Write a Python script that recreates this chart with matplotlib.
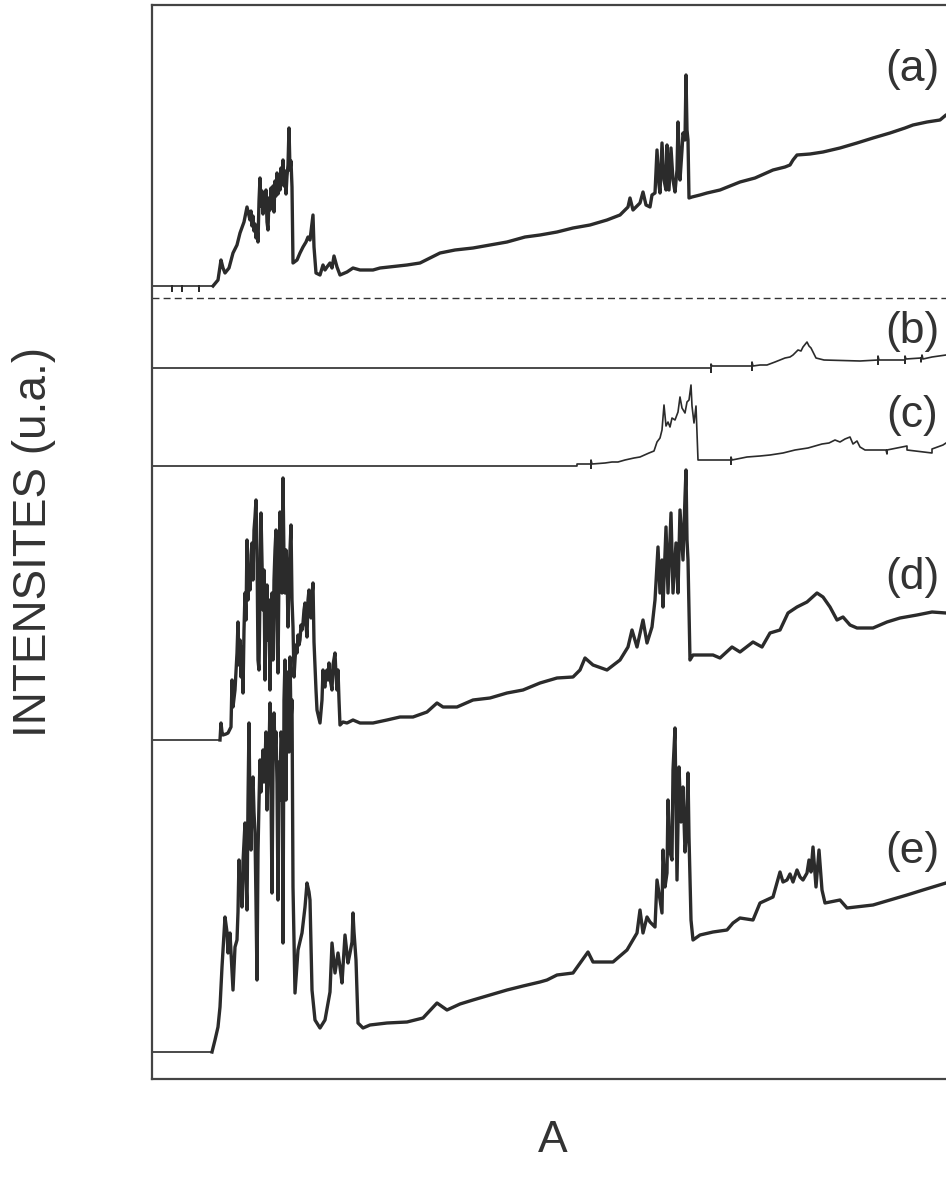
import numpy as np
import matplotlib
matplotlib.use("Agg")
from matplotlib import pyplot as plt

plt.rcParams['font.family'] = ['Liberation Sans', 'DejaVu Sans']

# spectra as (channel, intensity above the spectrum's own baseline)
a_pts = [(152, 0), (172, 0), (172, -5), (172, 0), (182, 0), (182, -5), (182, 0), (199, 0), (199, -5), (199, 0),
         (213, 0), (218, 6), (221, 26), (223, 18), (225, 13), (229, 18), (233, 33), (237, 41), (240, 53), (244, 64),
         (247, 79), (250, 66), (251, 75), (252, 60), (253, 70), (254, 55), (255, 62), (256, 48), (257, 60), (258, 44),
         (259, 85), (260, 108), (261, 80), (262, 95), (263, 72), (264, 92), (265, 78), (266, 96), (267, 64), (268, 56),
         (269, 88), (270, 76), (271, 98), (272, 82), (273, 100), (274, 74), (275, 105), (276, 90), (277, 113), (278, 92),
         (279, 110), (280, 96), (281, 118), (282, 104), (283, 126), (284, 100), (285, 115), (286, 92), (287, 110),
         (288, 121), (289, 158), (290, 116), (291, 125), (292, 99), (293, 23), (297, 26), (300, 33), (303, 39),
         (306, 44), (308, 49), (310, 46), (313, 71), (314, 39), (316, 13), (320, 11), (323, 21), (325, 16), (327, 19),
         (330, 23), (332, 18), (334, 30), (337, 19), (340, 11), (347, 14), (353, 18), (360, 16), (373, 16), (380, 18),
         (407, 21), (420, 23), (430, 28), (440, 33), (455, 36), (473, 38), (490, 41), (507, 44), (525, 49), (540, 51),
         (557, 54), (573, 58), (590, 61), (607, 66), (620, 71), (628, 79), (630, 88), (633, 76), (640, 83), (643, 94),
         (646, 81), (650, 79), (652, 91), (655, 93), (657, 136), (659, 101), (660, 93), (662, 143), (664, 106),
         (666, 96), (667, 141), (669, 96), (671, 138), (673, 106), (675, 94), (677, 116), (678, 164), (680, 106),
         (682, 136), (683, 153), (685, 146), (686, 211), (687, 156), (688, 146), (689, 88), (692, 89), (700, 91),
         (707, 93), (720, 96), (740, 104), (755, 108), (773, 116), (785, 119), (790, 121), (793, 126), (797, 131),
         (810, 132), (823, 134), (840, 138), (857, 143), (873, 148), (890, 153), (905, 158), (913, 161), (927, 164),
         (940, 166), (946, 171), (965, 178)]

b_pts = [(152, 0), (711, 0), (711, -4), (711, 4), (712, 2), (752, 2), (752, -2), (752, 6), (753, 2), (760, 3),
         (767, 3), (775, 6), (785, 10), (790, 11), (793, 13), (798, 18), (801, 17), (803, 21), (807, 26), (809, 22),
         (811, 20), (816, 10), (820, 9), (824, 8), (860, 7), (878, 8), (878, 4), (878, 12), (879, 8), (905, 8),
         (905, 5), (905, 12), (906, 9), (921, 10), (921, 6), (922, 13), (923, 9), (932, 11), (946, 13), (965, 14)]

c_pts = [(152, 0), (577, 0), (577, 2), (591, 2), (591, -2), (591, 6), (592, 2), (605, 3), (612, 4), (618, 4),
         (625, 6), (634, 8), (640, 9), (649, 13), (654, 15), (657, 24), (660, 28), (662, 36), (664, 61), (666, 40),
         (668, 44), (670, 39), (672, 48), (675, 46), (678, 54), (680, 69), (682, 58), (685, 53), (687, 64), (689, 66),
         (691, 81), (692, 60), (694, 43), (696, 60), (698, 6), (726, 6), (731, 6), (731, 2), (731, 9), (732, 6),
         (747, 9), (760, 10), (770, 11), (783, 13), (795, 16), (808, 18), (815, 20), (822, 22), (829, 23), (835, 26),
         (840, 24), (845, 27), (850, 29), (853, 22), (857, 25), (860, 19), (865, 16), (886, 16), (887, 12), (887, 16),
         (907, 20), (907, 16), (932, 13), (932, 17), (943, 21), (946, 23), (965, 26)]

d_pts = [(152, 0), (220, 0), (221, 17), (222, 8), (223, 5), (226, 6), (228, 7), (231, 13), (232, 60), (233, 33),
         (235, 50), (237, 87), (238, 118), (239, 75), (240, 100), (241, 63), (242, 93), (243, 47), (244, 110),
         (245, 147), (246, 120), (247, 200), (248, 140), (249, 170), (250, 150), (251, 185), (252, 197), (253, 160),
         (254, 210), (255, 223), (256, 240), (257, 190), (258, 80), (259, 70), (260, 150), (261, 227), (262, 180),
         (263, 130), (264, 170), (265, 60), (266, 120), (267, 155), (268, 100), (269, 140), (270, 50), (271, 120),
         (272, 147), (273, 80), (274, 160), (275, 190), (276, 210), (277, 110), (278, 67), (279, 170), (280, 228),
         (281, 190), (282, 147), (283, 262), (284, 180), (285, 147), (286, 190), (287, 170), (288, 113), (289, 160),
         (290, 190), (291, 215), (292, 140), (293, 113), (294, 63), (295, 80), (296, 95), (297, 87), (298, 105),
         (299, 95), (300, 100), (301, 115), (302, 110), (303, 117), (304, 130), (305, 137), (306, 115), (307, 103),
         (308, 140), (309, 150), (310, 130), (311, 122), (312, 145), (313, 157), (314, 98), (316, 50), (317, 30),
         (320, 17), (322, 40), (323, 70), (324, 55), (325, 53), (326, 68), (327, 70), (328, 60), (329, 77), (330, 62),
         (332, 50), (333, 75), (335, 87), (336, 65), (337, 50), (338, 70), (339, 40), (340, 15), (343, 18), (347, 17),
         (353, 20), (360, 17), (373, 17), (387, 20), (400, 23), (413, 23), (427, 28), (437, 37), (443, 33), (457, 33),
         (473, 40), (490, 42), (507, 47), (523, 50), (540, 57), (557, 62), (573, 63), (580, 70), (585, 82), (593, 75),
         (607, 70), (620, 80), (628, 93), (632, 110), (637, 93), (643, 120), (647, 97), (652, 113), (655, 140),
         (658, 193), (660, 147), (662, 180), (663, 133), (666, 213), (668, 147), (671, 227), (673, 147), (676, 197),
         (678, 147), (680, 230), (683, 180), (685, 243), (686, 270), (687, 200), (688, 180), (690, 80), (693, 85),
         (713, 85), (720, 82), (732, 93), (740, 88), (753, 98), (762, 93), (770, 107), (780, 110), (788, 127),
         (797, 133), (807, 138), (817, 147), (823, 143), (830, 133), (837, 120), (843, 123), (850, 115), (857, 112),
         (873, 112), (887, 118), (900, 122), (917, 125), (932, 128), (946, 127), (965, 128)]

e_pts = [(152, 0), (212, 0), (215, 12), (218, 25), (220, 45), (222, 85), (225, 135), (227, 120), (228, 99),
         (230, 119), (233, 62), (235, 105), (237, 112), (238, 140), (239, 192), (240, 160), (241, 175), (242, 145),
         (243, 190), (244, 210), (245, 229), (246, 170), (247, 142), (248, 250), (249, 329), (250, 240), (251, 202),
         (252, 260), (253, 275), (254, 240), (255, 219), (256, 150), (257, 72), (258, 200), (259, 250), (260, 292),
         (261, 260), (262, 280), (263, 302), (264, 270), (265, 290), (266, 320), (267, 242), (268, 285), (269, 300),
         (270, 349), (271, 260), (272, 159), (273, 280), (274, 339), (275, 300), (276, 320), (277, 269), (278, 152),
         (279, 290), (280, 252), (281, 320), (282, 310), (283, 109), (284, 352), (285, 392), (286, 252), (287, 380),
         (288, 352), (289, 300), (290, 395), (291, 330), (292, 352), (293, 165), (295, 59), (298, 102), (302, 119),
         (305, 145), (307, 169), (309, 160), (310, 152), (312, 62), (315, 32), (320, 24), (325, 32), (328, 49),
         (330, 60), (332, 109), (335, 79), (338, 99), (340, 85), (342, 69), (345, 117), (348, 89), (350, 99),
         (352, 110), (353, 139), (354, 120), (356, 92), (358, 29), (363, 24), (370, 27), (387, 29), (407, 30),
         (423, 34), (437, 49), (447, 42), (460, 48), (473, 52), (490, 57), (507, 62), (523, 66), (540, 70), (547, 72),
         (557, 77), (573, 79), (588, 100), (593, 90), (613, 90), (627, 102), (637, 119), (640, 142), (643, 119),
         (647, 135), (650, 130), (655, 125), (657, 172), (660, 152), (662, 139), (663, 202), (665, 165), (667, 179),
         (668, 252), (670, 200), (672, 192), (673, 282), (675, 324), (677, 172), (679, 285), (681, 230), (683, 265),
         (685, 200), (686, 212), (688, 279), (689, 215), (691, 132), (693, 112), (700, 117), (713, 120), (727, 122),
         (733, 129), (740, 134), (753, 132), (760, 149), (773, 155), (780, 180), (783, 170), (787, 172), (790, 178),
         (793, 170), (797, 182), (800, 175), (803, 172), (807, 179), (809, 192), (811, 180), (813, 205), (816, 165),
         (819, 202), (821, 175), (822, 162), (825, 149), (840, 152), (847, 144), (873, 147), (890, 152), (907, 157),
         (923, 162), (946, 169), (965, 172)]

labels = ['(a)', '(b)', '(c)', '(d)', '(e)']
offsets = [793, 711, 613, 339, 27]          # vertical stacking of the spectra
onsets = [213, 711, 577, 220, 212]          # end of the flat leading baseline
label_y = [1009, 748, 663, 501, 228]
sep_y = 781                                 # dashed separator under (a)

series = [a_pts, b_pts, c_pts, d_pts, e_pts]

fig = plt.figure(figsize=(9.46, 11.92), dpi=100)
ax = fig.add_axes([152 / 946, 113 / 1192, 813 / 946, 1074 / 1192])

col = '#2b2b2b'
for pts, off, x0, lab, ly in zip(series, offsets, onsets, labels, label_y):
    xs = np.array([p[0] for p in pts], dtype=float)
    ys = np.array([p[1] for p in pts], dtype=float) + off
    ax.plot(xs, ys, color=col, lw=1.2)
    if lab in ('(a)', '(d)', '(e)'):
        m = xs >= x0
        ax.plot(xs[m], ys[m], color=col, lw=2.4)
    ax.text(912, ly, lab, fontsize=32, color='#333333', ha='center', va='center')

ax.axhline(sep_y, color='#333333', lw=1.0, ls=(0, (5, 3)))

ax.set_xlim(152, 965)
ax.set_ylim(0, 1074)
ax.set_xticks([])
ax.set_yticks([])
for s in ax.spines.values():
    s.set_linewidth(1.6)
    s.set_color('#444444')

fig.text(34 / 946, (1192 - 542) / 1192, 'INTENSITES (u.a.)', rotation=90,
         fontsize=33, color='#333333', ha='center', va='center')
fig.text(553 / 946, (1192 - 1140) / 1192, 'A', fontsize=32, color='#333333',
         ha='center', va='center')

fig.savefig('out.png', dpi=100)
